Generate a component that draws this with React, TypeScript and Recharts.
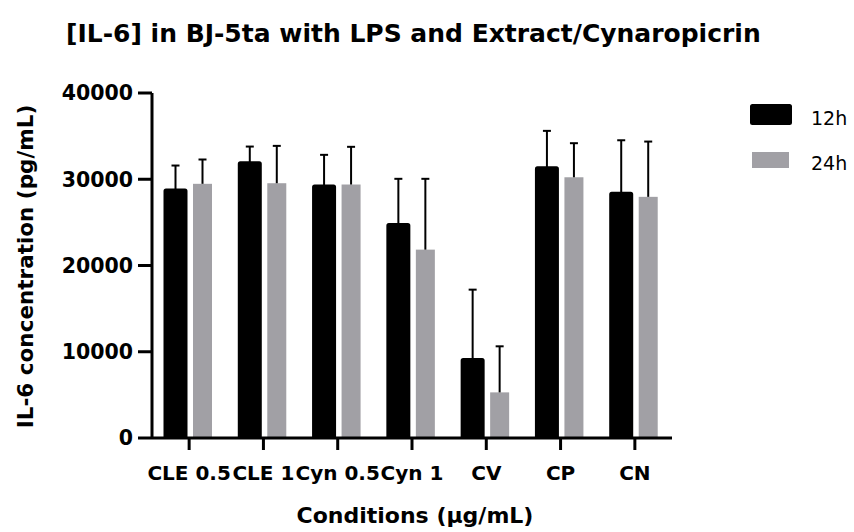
import React from 'react';
import { BarChart, Bar, XAxis, YAxis } from 'recharts';

const categories = ['CLE 0.5', 'CLE 1', 'Cyn 0.5', 'Cyn 1', 'CV', 'CP', 'CN'];
const mean12h = [28630, 31800, 29100, 24650, 8990, 31220, 28250];
const sd12h = [2960, 1990, 3730, 5400, 8210, 4390, 6270];
const mean24h = [29470, 29540, 29390, 21840, 5290, 30230, 27960];
const sd24h = [2820, 4330, 4370, 8210, 5340, 3950, 6410];
const yTicks = [0, 10000, 20000, 30000, 40000];
const seriesNames = ['12h', '24h'];

const data = categories.map((c, i) => ({
  name: c,
  v12: mean12h[i],
  e12: sd12h[i],
  v24: mean24h[i],
  e24: sd24h[i],
}));

const BLACK = '#000000';
const GRAY = '#a1a0a5';
const FONT = '"DejaVu Sans", Verdana, sans-serif';

const makeShape = (valKey: string, errKey: string, black: boolean) => (props: any) => {
  const { x, y, width, height, payload } = props;
  const val = payload[valKey];
  const err = payload[errKey];
  const pxPerUnit = val ? height / val : 0;
  const cx = x + width / 2;
  const yTop = y - err * pxPerUnit;
  return (
    <g>
      <rect
        x={x}
        y={y}
        width={width}
        height={height}
        fill={black ? BLACK : GRAY}
        stroke={black ? BLACK : 'none'}
        strokeWidth={black ? 5 : 0}
        strokeLinejoin="round"
      />
      <line x1={cx} y1={y} x2={cx} y2={yTop} stroke={BLACK} strokeWidth={2} />
      <line x1={cx - 4} y1={yTop} x2={cx + 4} y2={yTop} stroke={BLACK} strokeWidth={2} />
    </g>
  );
};

const renderYLabel = (props: any) => {
  const vb = props.viewBox || { x: 0, y: 93, width: 152, height: 345 };
  const cx = vb.x + 33;
  const cy = vb.y + vb.height / 2 + 1;
  return (
    <text
      x={cx}
      y={cy}
      transform={`rotate(-90, ${cx}, ${cy})`}
      textAnchor="middle"
      fontFamily={FONT}
      fontWeight="bold"
      fontSize={21.5}
      fill="#000"
    >
      IL-6 concentration (pg/mL)
    </text>
  );
};

const renderXLabel = (props: any) => {
  const vb = props.viewBox || { x: 152, y: 438, width: 520, height: 94 };
  return (
    <text
      x={vb.x + vb.width / 2 + 3}
      y={vb.y + 85}
      textAnchor="middle"
      fontFamily={FONT}
      fontWeight="bold"
      fontSize={22}
      fill="#000"
    >
      Conditions (μg/mL)
    </text>
  );
};

export default function App() {
  return (
    <div style={{ position: 'absolute', left: 0, top: 0, width: 854, height: 532, background: '#fff' }}>
      <BarChart
        width={854}
        height={532}
        data={data}
        margin={{ top: 93, right: 182, bottom: 0, left: 0 }}
        barGap={8}
      >
        <XAxis
          dataKey="name"
          height={94}
          axisLine={{ stroke: '#000', strokeWidth: 3 }}
          tickLine={{ stroke: '#000', strokeWidth: 3 }}
          tickSize={12}
          tickMargin={16}
          interval={0}
          tick={{ fill: '#000', fontFamily: FONT, fontWeight: 'bold', fontSize: 20 }}
          label={renderXLabel}
        />
        <YAxis
          width={152}
          domain={[0, 40000]}
          ticks={yTicks}
          allowDataOverflow
          axisLine={{ stroke: '#000', strokeWidth: 3 }}
          tickLine={{ stroke: '#000', strokeWidth: 3 }}
          tickSize={14}
          tickMargin={5}
          tick={{ fill: '#000', fontFamily: FONT, fontWeight: 'bold', fontSize: 20.5 }}
          label={renderYLabel}
        />
        <Bar dataKey="v12" name={seriesNames[0]} barSize={19} isAnimationActive={false} shape={makeShape('v12', 'e12', true)} />
        <Bar dataKey="v24" name={seriesNames[1]} barSize={19} isAnimationActive={false} shape={makeShape('v24', 'e24', false)} />
      </BarChart>
      <svg
        width={854}
        height={532}
        style={{ position: 'absolute', left: 0, top: 0, pointerEvents: 'none' }}
      >
        <text x={66} y={41.5} fontFamily={FONT} fontWeight="bold" fontSize={25} fill="#000">
          [IL-6] in BJ-5ta with LPS and Extract/Cynaropicrin
        </text>
        <rect x={752.5} y={106.5} width={37} height={16} fill={BLACK} stroke={BLACK} strokeWidth={5} strokeLinejoin="round" />
        <text x={811} y={125} fontFamily={FONT} fontSize={19} fill="#000">
          {seriesNames[0]}
        </text>
        <rect x={752} y={152} width={37} height={16} fill={GRAY} />
        <text x={811} y={170} fontFamily={FONT} fontSize={19} fill="#000">
          {seriesNames[1]}
        </text>
      </svg>
    </div>
  );
}
